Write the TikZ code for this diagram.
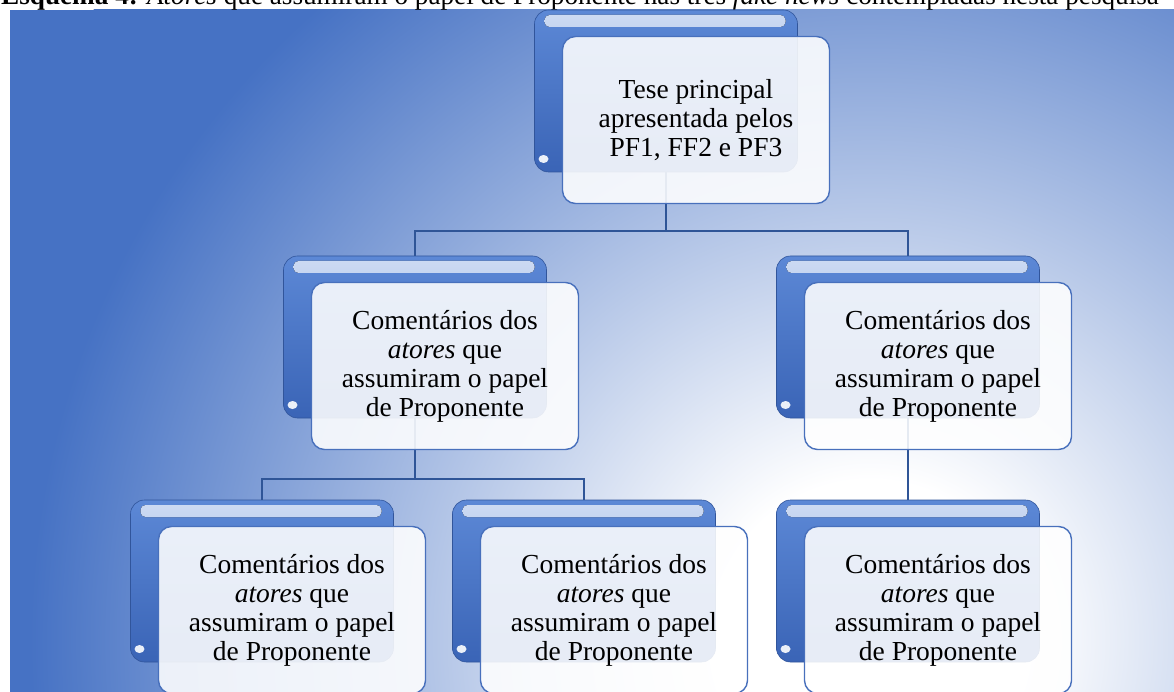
\documentclass[tikz,border=0pt]{standalone}
\usepackage{fontspec}
\setmainfont{Liberation Serif}
\definecolor{fundo}{RGB}{70,114,196}
\definecolor{abatopo}{RGB}{92,136,214}
\definecolor{abafundo}{RGB}{58,100,182}
\definecolor{corliga}{RGB}{47,85,151}
\definecolor{borda}{RGB}{72,112,188}
\pgfdeclareradialshading{brilho}{\pgfpoint{0bp}{0bp}}{color(0bp)=(white); color(4bp)=(white); color(21bp)=(fundo); color(50bp)=(fundo)}
\tikzset{
  aba/.style={rounded corners=14pt, minimum width=263pt, minimum height=162pt, inner sep=0pt,
    top color=abatopo, bottom color=abafundo, draw=abafundo!85!black, line width=0.6pt,
    path picture={
      \fill[top color=abatopo!30!white, bottom color=abatopo!75!white, rounded corners=5pt]
        ([shift={(10pt,-5pt)}]path picture bounding box.north west) rectangle
        ([shift={(-12pt,-17pt)}]path picture bounding box.north east);
      \fill[white, opacity=0.9] ([shift={(9pt,13pt)}]path picture bounding box.south west) ellipse (5pt and 4pt);
    }},
  caixa/.style={draw=borda, line width=1.4pt, fill=white, fill opacity=0.88, text opacity=1,
    rounded corners=13pt, minimum width=267pt, minimum height=167pt, inner sep=0pt,
    align=center, font=\fontsize{27.5}{29}\selectfont},
  liga/.style={draw=corliga, line width=2.4pt}
}
\begin{document}
\begin{tikzpicture}[x=1pt,y=-1pt]
  \useasboundingbox (0,0) rectangle (1174,692);
  \clip (0,0) rectangle (1174,692);
  \fill[white] (0,0) rectangle (1174,692);
  \fill[fundo] (10,10) rectangle (1174,692);
  \begin{scope}
    \clip (10,10) rectangle (1174,692);
    \shade[shading=brilho] (870,640) circle (1000pt);
  \end{scope}
  \node[anchor=base west, inner sep=0pt, font=\fontsize{27.2}{30}\selectfont] (titulo) at (1,5)
    {\textbf{Esquema 4:} \textit{Atores} que assumiram o papel de Proponente nas três \textit{fake news} contempladas nesta pesquisa};
  \node[aba] (a0) at (666,91) {};
  \node[aba] (a1) at (415,337) {};
  \node[aba] (a2) at (908,337) {};
  \node[aba] (a3) at (262,581) {};
  \node[aba] (a4) at (584,581) {};
  \node[aba] (a5) at (908,581) {};
  \begin{scope}[liga]
    \draw (a0.south) -- (a0.south |- 0,231) -| (a1.north);
    \draw (a0.south |- 0,231) -| (a2.north);
    \draw (a1.south) -- (a1.south |- 0,479) -| (a3.north);
    \draw (a1.south |- 0,479) -| (a4.north);
    \draw (a2.south) -- (a5.north);
  \end{scope}
  \node[caixa] (c0) at ([shift={(30,29)}]a0.center) {Tese principal\\apresentada pelos\\PF1, FF2 e PF3};
  \node[caixa] (c1) at ([shift={(30,29)}]a1.center) {Comentários dos\\\textit{atores} que\\assumiram o papel\\de Proponente};
  \node[caixa] (c2) at ([shift={(30,29)}]a2.center) {Comentários dos\\\textit{atores} que\\assumiram o papel\\de Proponente};
  \node[caixa] (c3) at ([shift={(30,29)}]a3.center) {Comentários dos\\\textit{atores} que\\assumiram o papel\\de Proponente};
  \node[caixa] (c4) at ([shift={(30,29)}]a4.center) {Comentários dos\\\textit{atores} que\\assumiram o papel\\de Proponente};
  \node[caixa] (c5) at ([shift={(30,29)}]a5.center) {Comentários dos\\\textit{atores} que\\assumiram o papel\\de Proponente};
\end{tikzpicture}
\end{document}
